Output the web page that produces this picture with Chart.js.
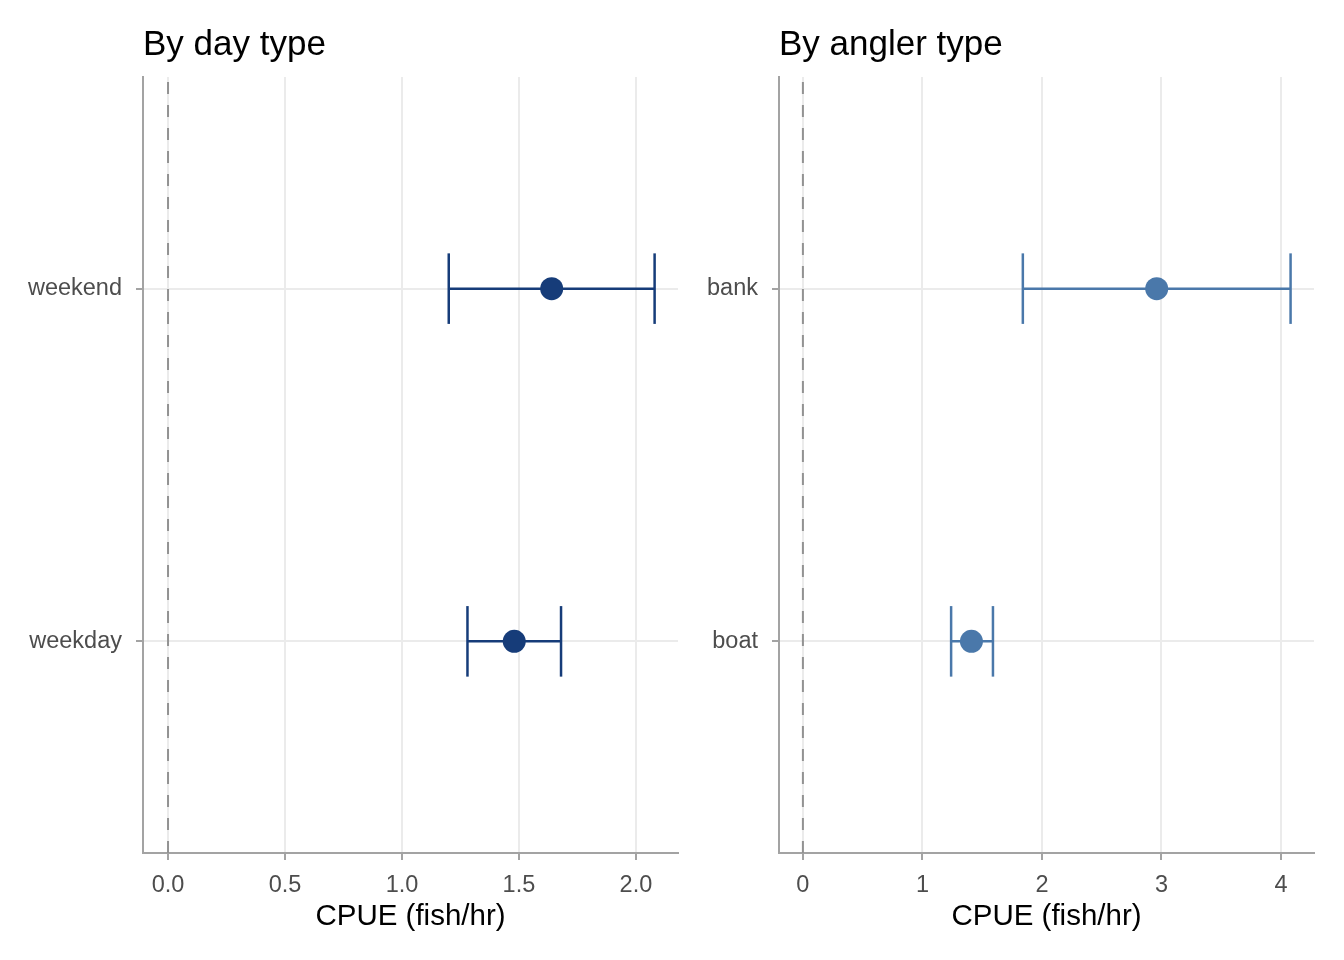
<!DOCTYPE html>
<html>
<head>
<meta charset="utf-8">
<script src="https://cdn.jsdelivr.net/npm/chart.js@4"></script>
<style>
  body { margin: 0; background: #fff; }
  #wrap { position: relative; width: 1344px; height: 960px; }
  #c1 { position: absolute; left: 0; top: 0; }
  #c2 { position: absolute; left: 690px; top: 0; }
</style>
</head>
<body>
<div id="wrap">
  <canvas id="c1" width="690" height="960"></canvas>
  <canvas id="c2" width="654" height="960"></canvas>
</div>
<script>
// panel 1: by day type
const dayTypes = ['weekday', 'weekend'];
const dayEst = [1.48, 1.64];
const dayLow = [1.28, 1.20];
const dayHigh = [1.68, 2.08];
const dayTicks = [0, 0.5, 1, 1.5, 2];
const dayTickLabels = ['0.0', '0.5', '1.0', '1.5', '2.0'];

// panel 2: by angler type
const anglerTypes = ['boat', 'bank'];
const anglerEst = [1.41, 2.96];
const anglerLow = [1.24, 1.84];
const anglerHigh = [1.59, 4.08];
const anglerTicks = [0, 1, 2, 3, 4];
const anglerTickLabels = ['0', '1', '2', '3', '4'];

const FONT = '"Liberation Sans", Arial, Helvetica, sans-serif';

function makePanel(canvasId, opts) {
  const datasets = [];

  // dashed reference line at zero
  datasets.push({
    type: 'scatter',
    data: [{ x: 0, y: 0.4 }, { x: 0, y: 2.6 }],
    showLine: true,
    borderColor: '#929292',
    borderWidth: 2,
    borderDash: [12, 11],
    pointRadius: 0,
    order: 5
  });

  // error bars
  opts.cats.forEach((c, i) => {
    const y = i + 1;
    const lo = opts.low[i], hi = opts.high[i];
    const bar = (pts) => ({
      type: 'scatter',
      data: pts,
      showLine: true,
      borderColor: opts.color,
      borderWidth: 2.5,
      pointRadius: 0,
      order: 2
    });
    datasets.push(bar([{ x: lo, y: y }, { x: hi, y: y }]));
    datasets.push(bar([{ x: lo, y: y - 0.1 }, { x: lo, y: y + 0.1 }]));
    datasets.push(bar([{ x: hi, y: y - 0.1 }, { x: hi, y: y + 0.1 }]));
  });

  // point estimates
  datasets.push({
    type: 'scatter',
    data: opts.est.map((v, i) => ({ x: v, y: i + 1 })),
    backgroundColor: opts.color,
    borderColor: opts.color,
    borderWidth: 0,
    pointRadius: 11.5,
    order: 0
  });

  new Chart(document.getElementById(canvasId), {
    type: 'scatter',
    data: { datasets },
    options: {
      responsive: false,
      animation: false,
      layout: { padding: { left: 0, right: opts.rightPad, top: 0, bottom: 0 } },
      plugins: {
        legend: { display: false },
        tooltip: { enabled: false },
        title: {
          display: true,
          text: opts.title,
          align: 'start',
          fullSize: false,
          color: '#000',
          font: { family: FONT, size: 35, weight: 'normal' },
          padding: { top: 24, bottom: 11 }
        }
      },
      scales: {
        x: {
          type: 'linear',
          min: opts.xMin,
          max: opts.xMax,
          afterBuildTicks: s => { s.ticks = opts.ticks.map(v => ({ value: v })); },
          afterFit: s => { s.height = 107; },
          ticks: {
            autoSkip: false,
            maxRotation: 0,
            padding: 11,
            color: '#4d4d4d',
            font: { family: FONT, size: 23.5 },
            callback: (v) => opts.tickLabels[opts.ticks.indexOf(v)]
          },
          grid: { color: '#ebebeb', lineWidth: 2, tickColor: '#a3a3a3', tickLength: 7, tickWidth: 2 },
          border: { color: '#a3a3a3', width: 2 },
          title: {
            display: true,
            text: 'CPUE (fish/hr)',
            color: '#000',
            font: { family: FONT, size: 29.5 },
            padding: { top: 0, bottom: 25 }
          }
        },
        y: {
          type: 'linear',
          min: 0.4,
          max: 2.6,
          afterBuildTicks: s => { s.ticks = opts.cats.map((c, i) => ({ value: i + 1 })); },
          afterFit: s => { s.width = opts.yWidth; },
          ticks: {
            autoSkip: false,
            padding: 14,
            color: '#4d4d4d',
            font: { family: FONT, size: 23.5 },
            callback: (v) => opts.cats[v - 1]
          },
          grid: { color: '#ebebeb', lineWidth: 2, tickColor: '#a3a3a3', tickLength: 7, tickWidth: 2 },
          border: { color: '#a3a3a3', width: 2 }
        }
      }
    }
  });
}

makePanel('c1', {
  title: 'By day type',
  cats: dayTypes, est: dayEst, low: dayLow, high: dayHigh,
  ticks: dayTicks, tickLabels: dayTickLabels,
  xMin: -0.107, xMax: 2.18,
  color: '#163c79',
  yWidth: 143, rightPad: 12
});

makePanel('c2', {
  title: 'By angler type',
  cats: anglerTypes, est: anglerEst, low: anglerLow, high: anglerHigh,
  ticks: anglerTicks, tickLabels: anglerTickLabels,
  xMin: -0.2, xMax: 4.276,
  color: '#4a78aa',
  yWidth: 89, rightPad: 30
});
</script>
</body>
</html>
